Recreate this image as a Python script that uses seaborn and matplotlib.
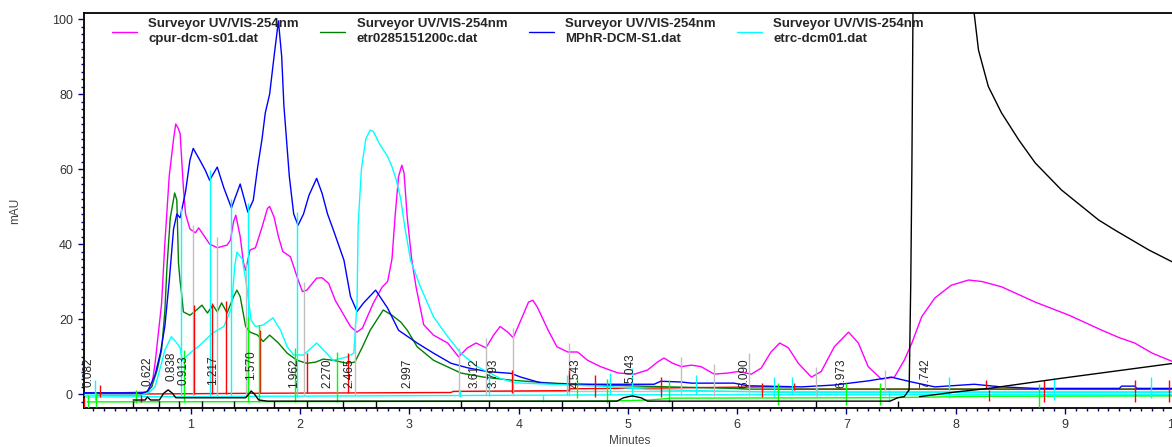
import numpy as np
import pandas as pd
import matplotlib
matplotlib.use("Agg")
import matplotlib.pyplot as plt
import seaborn as sns
from matplotlib.ticker import MultipleLocator

# ---------------- data ----------------
legend_labels = [
    "Surveyor UV/VIS-254nm\ncpur-dcm-s01.dat",
    "Surveyor UV/VIS-254nm\netr0285151200c.dat",
    "Surveyor UV/VIS-254nm\nMPhR-DCM-S1.dat",
    "Surveyor UV/VIS-254nm\netrc-dcm01.dat",
]

magenta_t = [0.0, 0.30, 0.60, 0.64, 0.67, 0.70, 0.73, 0.76, 0.80, 0.84, 0.86, 0.88, 0.90, 0.93, 0.95,
             0.99, 1.04, 1.07, 1.10, 1.17, 1.24, 1.33, 1.36, 1.39, 1.41, 1.45, 1.48, 1.50, 1.54, 1.59,
             1.65, 1.70, 1.72, 1.76, 1.80, 1.84, 1.91, 1.97, 2.02, 2.06, 2.15, 2.20, 2.26, 2.32, 2.40,
             2.46, 2.52, 2.57, 2.62, 2.67, 2.75, 2.80, 2.84, 2.87, 2.90, 2.93, 2.95, 2.98, 3.02, 3.06,
             3.13, 3.22, 3.35, 3.45, 3.53, 3.61, 3.70, 3.77, 3.83, 3.90, 3.95, 4.02, 4.09, 4.13, 4.17,
             4.27, 4.35, 4.45, 4.54, 4.63, 4.75, 4.91, 5.06, 5.18, 5.27, 5.33, 5.41, 5.49, 5.58, 5.67,
             5.79, 5.92, 6.01, 6.13, 6.22, 6.31, 6.39, 6.47, 6.56, 6.68, 6.77, 6.89, 7.02, 7.11, 7.20,
             7.32, 7.44, 7.53, 7.60, 7.69, 7.81, 7.96, 8.12, 8.24, 8.42, 8.73, 9.04, 9.34, 9.50, 9.64,
             9.80, 10.0]
magenta_v = [0.3, 0.3, 0.5, 2.0, 8.0, 16.0, 24.0, 40.0, 58.0, 68.0, 72.0, 71.0, 69.5, 55.0, 48.0,
             44.0, 43.0, 44.3, 43.0, 40.0, 39.0, 39.7, 41.0, 46.0, 47.7, 42.0, 35.0, 33.0, 38.4, 39.0,
             44.5, 49.5, 50.0, 47.2, 42.0, 38.0, 36.6, 31.3, 27.3, 27.7, 30.9, 31.0, 29.5, 25.0, 21.0,
             18.0, 16.5, 17.6, 21.0, 24.3, 28.5, 30.0, 36.0, 48.0, 58.0, 61.0, 59.0, 47.0, 36.0, 28.6,
             18.5, 15.7, 13.6, 9.9, 12.3, 13.6, 12.3, 15.7, 18.0, 16.5, 15.0, 19.7, 24.5, 25.0, 23.2,
             17.0, 12.6, 11.2, 11.2, 9.0, 7.3, 5.6, 5.3, 6.4, 8.5, 9.6, 8.2, 7.3, 7.7, 7.3,
             5.3, 5.6, 6.0, 5.3, 6.9, 11.2, 13.6, 12.3, 8.2, 4.5, 6.0, 12.6, 16.5, 13.6, 7.3,
             4.0, 4.5, 9.0, 13.6, 20.6, 25.6, 29.0, 30.4, 30.0, 28.6, 24.5, 21.0, 17.0, 15.0, 13.6,
             10.9, 8.5]

green_t = [0.0, 0.55, 0.58, 0.64, 0.69, 0.73, 0.76, 0.78, 0.81, 0.85, 0.87, 0.885, 0.90, 0.91, 0.93,
           0.99, 1.05, 1.10, 1.15, 1.20, 1.24, 1.28, 1.33, 1.39, 1.42, 1.45, 1.50, 1.54, 1.61, 1.66,
           1.72, 1.80, 1.88, 1.97, 2.06, 2.14, 2.21, 2.30, 2.43, 2.50, 2.57, 2.64, 2.76, 2.84, 2.92,
           2.98, 3.07, 3.22, 3.47, 3.68, 3.93, 4.30, 4.75, 5.37, 5.97, 6.10, 10.0]
green_v = [0.2, 0.2, 0.3, 1.9, 6.4, 11.7, 22.0, 34.0, 47.0, 53.6, 51.7, 35.0, 30.0, 27.7, 21.9,
           21.0, 22.4, 23.7, 21.6, 23.7, 21.9, 24.3, 21.6, 26.0, 27.7, 26.0, 18.0, 16.5, 15.7, 14.0,
           15.7, 13.6, 10.9, 9.0, 8.2, 8.5, 9.3, 9.0, 8.2, 8.5, 12.6, 17.0, 22.4, 21.0, 19.2,
           17.0, 12.6, 9.0, 5.6, 4.5, 3.7, 2.9, 2.4, 1.9, 1.5, 1.3, 1.3]

blue_t = [0.0, 0.55, 0.60, 0.67, 0.72, 0.76, 0.80, 0.84, 0.87, 0.90, 0.95, 0.99, 1.02, 1.08, 1.13,
          1.17, 1.24, 1.30, 1.37, 1.45, 1.52, 1.57, 1.61, 1.65, 1.68, 1.72, 1.76, 1.80, 1.83, 1.85,
          1.90, 1.94, 1.98, 2.03, 2.08, 2.15, 2.20, 2.25, 2.30, 2.40, 2.46, 2.52, 2.58, 2.69, 2.80,
          2.90, 3.07, 3.22, 3.38, 3.53, 3.71, 3.93, 4.02, 4.20, 4.45, 5.24, 5.30, 5.49, 5.58, 5.97,
          6.10, 6.59, 6.89, 7.20, 7.41, 7.60, 7.81, 8.17, 8.42, 8.73, 9.50, 9.52, 9.64, 9.66, 10.0]
blue_v = [0.3, 0.3, 0.6, 5.0, 11.0, 18.0, 30.0, 44.0, 48.0, 47.0, 54.0, 62.4, 65.5, 62.4, 59.7,
          57.0, 60.5, 55.0, 49.6, 56.0, 48.5, 51.7, 60.5, 68.0, 75.0, 80.0, 90.0, 99.5, 90.0, 77.0,
          58.0, 48.0, 45.0, 48.0, 53.0, 57.5, 53.5, 48.0, 44.0, 35.7, 26.0, 22.0, 24.3, 27.7, 22.9,
          17.0, 13.6, 10.9, 8.2, 7.0, 6.0, 5.5, 4.5, 3.0, 2.6, 2.6, 3.4, 3.2, 2.9, 2.9,
          2.2, 1.9, 2.4, 3.5, 4.5, 3.2, 1.9, 2.6, 1.9, 1.5, 1.5, 2.1, 2.1, 1.5, 1.5]

cyan_t = [0.0, 0.55, 0.62, 0.67, 0.73, 0.76, 0.82, 0.87, 0.90, 0.92, 0.99, 1.08, 1.20, 1.30, 1.37,
          1.40, 1.42, 1.47, 1.51, 1.55, 1.59, 1.66, 1.75, 1.82, 1.88, 1.94, 2.03, 2.15, 2.23, 2.30,
          2.43, 2.49, 2.52, 2.53, 2.56, 2.60, 2.64, 2.67, 2.72, 2.80, 2.84, 2.88, 2.92, 2.96, 3.01,
          3.10, 3.22, 3.35, 3.47, 3.62, 3.83, 3.96, 4.30, 4.75, 5.20, 5.80, 6.50, 10.0]
cyan_v = [-0.3, -0.3, 0.5, 1.9, 8.2, 11.7, 15.3, 13.6, 12.3, 9.0, 10.9, 13.0, 16.3, 18.0, 22.9,
          34.0, 37.8, 36.0, 28.6, 19.7, 18.0, 18.4, 20.3, 17.0, 12.6, 10.4, 10.4, 13.6, 11.2, 9.0,
          9.9, 10.9, 24.3, 45.0, 60.0, 68.0, 70.4, 70.0, 67.0, 63.3, 60.6, 57.0, 52.0, 44.0, 35.7,
          28.6, 20.6, 15.3, 10.9, 7.3, 4.2, 3.0, 2.6, 2.1, 1.2, 0.8, 0.4, 0.4]

black_t = [0.47, 0.58, 0.60, 0.63, 0.71, 0.75, 0.79, 0.83, 0.86, 1.50, 1.53, 1.55, 1.58, 1.62, 1.70,
           4.90, 4.96, 5.04, 5.12, 5.18, 7.40, 7.47, 7.53, 7.575, 7.59, 7.60, 7.61, 7.615, 8.15,
           8.17, 8.21, 8.30, 8.42, 8.58, 8.73, 8.97, 9.31, 9.46, 9.77, 10.0]
black_v = [-1.6, -1.6, -0.8, -1.6, -1.6, 0.2, 1.1, 0.2, -1.0, -1.0, 0.0, 0.8, 0.0, -1.6, -1.9,
           -1.9, -1.0, -0.5, -1.0, -1.9, -1.9, -1.0, -0.7, 1.1, 30.0, 60.0, 101.6, 200.0, 200.0,
           101.6, 91.7, 82.0, 75.0, 67.7, 61.6, 54.4, 46.4, 43.7, 38.4, 35.0]

# baseline under the large late peak
black_base_t = [7.67, 7.99, 8.33, 8.97, 10.0]
black_base_v = [-0.7, 0.5, 1.6, 4.2, 8.2]

# integration baselines
red_base_t = [0.13, 0.53, 0.54, 1.63, 3.38, 3.40, 4.46, 4.47, 5.30, 6.23, 6.52, 6.53, 10.0]
red_base_v = [-0.3, -0.3, 0.0, 0.2, 0.4, 0.7, 0.9, 1.4, 1.6, 1.9, 1.9, 1.3, 1.3]
lime_base_t = [0.05, 4.80, 5.20, 5.40, 7.30, 8.30, 10.0]
lime_base_v = [-2.1, -1.9, -1.6, -1.1, -1.0, -0.6, -0.5]
cyan_base_t = [0.0, 3.40, 5.0, 10.0]
cyan_base_v = [-0.8, -0.4, -0.2, -0.2]
gray_base_t = [3.40, 10.0]
gray_base_v = [0.9, 0.9]

# peak boundary markers: time, top, bottom
cyan_mk_t = [0.12, 0.91, 1.17, 1.37, 1.52, 1.97, 3.46, 3.73, 4.22, 4.44, 4.84, 5.04, 5.62, 6.34, 6.50, 6.73, 7.39, 7.94, 8.90, 9.79]
cyan_mk_top = [3.7, 49.6, 59.7, 52.0, 51.0, 48.5, 1.0, 6.0, -0.3, 5.2, 5.6, 7.0, 5.2, 4.5, 4.5, 1.5, 1.0, 4.5, 4.2, 4.5]
cyan_mk_bot = [-1.6, -0.8, -0.8, -0.8, -0.8, -0.8, -0.8, -0.5, -2.1, -0.3, -0.3, -0.8, -0.3, -0.8, -0.3, -0.5, -2.1, -1.1, -1.6, -1.1]

gray_mk_t = [1.02, 1.24, 1.50, 2.03, 2.50, 3.45, 3.70, 3.95, 4.46, 5.49, 5.79, 6.11, 6.72, 7.35]
gray_mk_top = [45.0, 42.0, 35.0, 30.0, 19.0, 12.3, 15.0, 17.6, 13.6, 9.9, 8.0, 11.0, 7.3, 6.4]

red_mk_t = [0.02, 0.165, 0.54, 1.03, 1.19, 1.32, 1.63, 2.06, 2.44, 3.94, 4.46, 4.70, 5.30, 6.23, 6.52, 8.28, 8.31, 8.81, 9.64, 9.95]
red_mk_top = [-1.1, 2.4, -0.3, 23.7, 24.3, 24.8, 17.0, 11.0, 11.0, 6.4, 6.4, 5.0, 4.5, 2.9, 2.9, 3.7, 1.1, 3.7, 3.7, 3.7]
red_mk_bot = [-3.7, -0.8, -2.1, 0.0, 0.0, 0.0, 0.2, 0.2, 0.2, 0.4, 0.9, -0.8, -0.8, -0.8, 1.1, 1.6, -1.9, -2.1, -2.1, -2.1]

lime_mk_t = [0.055, 0.13, 0.50, 0.94, 1.52, 1.62, 1.95, 2.34, 4.53, 4.81, 5.38, 6.37, 7.00, 7.31, 8.76]
lime_mk_top = [-0.3, 0.5, 1.1, 11.7, 20.6, 18.4, 12.3, 11.2, 4.2, 4.0, 3.7, 2.9, 2.9, 2.9, 2.6]
lime_mk_bot = [-3.7, -3.5, -2.4, -2.1, -2.1, -2.1, -2.1, -2.1, -1.1, -2.5, -2.1, -2.9, -2.9, -2.9, -3.5]

black_mk_t = [0.47, 0.71, 0.89, 1.10, 1.39, 1.76, 2.06, 2.39, 2.69, 3.47, 3.73, 4.40, 4.83, 5.40, 6.72, 7.47]

peak_t = [0.082, 0.622, 0.838, 0.913, 1.217, 1.570, 1.962, 2.270, 2.465, 2.997,
          3.612, 3.793, 4.543, 5.043, 6.090, 6.973, 7.742]
peak_labels = ["0.082", "0.622", "0.838", "0.913", "1.217", "1.570", "1.962", "2.270", "2.465", "2.997",
               "3.612", "3.793", "4.543", "5.043", "6.090", "6.973", "7.742"]

# ---------------- drawing ----------------
sns.set_theme(style="white")
plt.rcParams["font.family"] = ["Liberation Sans", "DejaVu Sans"]

W, H = 1172, 447
fig = plt.figure(figsize=(W / 100, H / 100), dpi=100)
ax = fig.add_axes([84 / W, 1 - 408 / H, 1090 / W, 395 / H])

C_MAG, C_DG, C_BLUE, C_CYAN = "#ff00ff", "#008000", "#0000ff", "#00ffff"
C_RED, C_LIME, C_GRAY = "#ff0000", "#00ff00", "#c0c0c0"
LW = 1.0

# integration baselines
ax.plot(gray_base_t, gray_base_v, color=C_GRAY, lw=LW, zorder=1)
ax.plot(cyan_base_t, cyan_base_v, color=C_CYAN, lw=LW, zorder=1)
ax.plot(lime_base_t, lime_base_v, color=C_LIME, lw=LW, zorder=1)
ax.plot(red_base_t, red_base_v, color=C_RED, lw=LW, zorder=1)

traces = [
    (magenta_t, magenta_v, C_MAG),
    (green_t, green_v, C_DG),
    (blue_t, blue_v, C_BLUE),
    (cyan_t, cyan_v, C_CYAN),
]
handles = []
for (t, v, c), lab in zip(traces, legend_labels):
    df = pd.DataFrame({"t": t, "v": v})
    sns.lineplot(data=df, x="t", y="v", ax=ax, color=c, lw=LW, estimator=None,
                 sort=False, label=lab, zorder=3)
    handles.append(ax.lines[-1])

# markers
ax.vlines(gray_mk_t, -0.5, gray_mk_top, color=C_GRAY, lw=LW, zorder=4)
ax.vlines(cyan_mk_t, cyan_mk_bot, cyan_mk_top, color=C_CYAN, lw=LW, zorder=4)
ax.vlines(red_mk_t, red_mk_bot, red_mk_top, color=C_RED, lw=LW, zorder=4)
ax.vlines(lime_mk_t, lime_mk_bot, lime_mk_top, color=C_LIME, lw=LW, zorder=4)
ax.vlines(black_mk_t, -3.7, -1.9, color="black", lw=LW, zorder=4)

# black trace and its baseline
sns.lineplot(x=black_t, y=black_v, ax=ax, color="black", lw=LW, estimator=None, sort=False, zorder=5)
ax.plot(black_base_t, black_base_v, color="black", lw=LW, zorder=5)

# peak labels, placed just above the black trace; crowded ones nudged apart
bt = np.array(black_t)
bv = np.array(black_v)
prev = -1.0
for t, s in zip(peak_t, peak_labels):
    b = np.interp(t, bt, bv)
    y = b + 3.5 if b < 5 else 1.7
    dx = 1.5 if (t - prev) < 0.1 else -1.5
    prev = t
    ax.annotate(s, xy=(t, y), xytext=(dx, 0), textcoords="offset points",
                rotation=90, ha="center", va="bottom", fontsize=8.5,
                color="#222222", zorder=6)

ax.set_xlim(0.02, 10.0)
ax.set_ylim(-3.73, 101.6)
ax.set_xticks(range(1, 11))
ax.set_yticks(range(0, 101, 20))
ax.xaxis.set_minor_locator(MultipleLocator(0.1))
ax.yaxis.set_minor_locator(MultipleLocator(2))
ax.tick_params(axis="both", which="major", direction="out", length=4, width=1,
               color="#000080", labelsize=9, labelcolor="#333333", pad=4)
ax.tick_params(axis="both", which="minor", direction="out", length=2.5, width=1,
               color="#000080")
ax.tick_params(axis="x", which="both", bottom=True)
ax.tick_params(axis="y", which="both", left=True)

for side in ["left", "bottom", "top"]:
    ax.spines[side].set_color("black")
    ax.spines[side].set_linewidth(1.3)
ax.spines["right"].set_visible(False)

ax.set_xlabel("Minutes", fontsize=8.5, color="#444444")
ax.xaxis.set_label_coords((630 - 84) / 1090, -(435 - 408) / 395)
ax.set_ylabel("mAU", fontsize=8.5, color="#444444")
ax.yaxis.set_label_coords(-(84 - 21) / 1090, (408 - 211) / 395)

leg = ax.legend(handles, legend_labels, loc="upper left", bbox_to_anchor=(0.0257, 0.987),
                ncol=4, frameon=False, handlelength=1.9, handletextpad=0.85, columnspacing=1.62,
                borderaxespad=0, borderpad=0,
                prop={"family": ["Liberation Sans"], "weight": "bold", "size": 9.5})
for txt in leg.get_texts():
    txt.set_linespacing(1.35)

fig.savefig("out.png", dpi=100)
